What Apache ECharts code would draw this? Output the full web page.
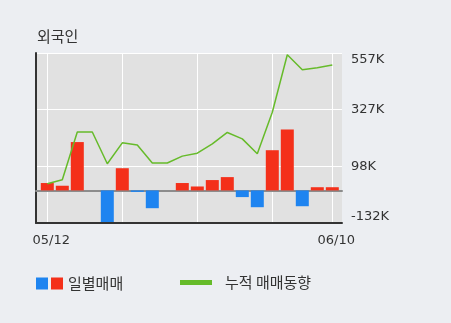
<!DOCTYPE html>
<html>
<head>
<meta charset="utf-8">
<script src="https://cdn.jsdelivr.net/npm/echarts@6/dist/echarts.min.js"></script>
<style>
html,body{margin:0;padding:0;background:#eceef2;}
#chart{width:451px;height:323px;}
</style>
</head>
<body>
<div id="chart"></div>
<script>
const categories = ['05/12','05/13','05/16','05/17','05/18','05/19','05/20','05/23','05/24','05/25','05/26','05/27','05/30','05/31','06/02','06/03','06/07','06/08','06/09','06/10'];
const dailyNet = [30, 19, 196, 0, -128, 90, -6, -72, 0, 30, 16, 42, 54, -27, -68, 163, 247, -64, 13, 13];
const cumulative = [27, 43, 237, 237, 108, 193, 184, 111, 111, 139, 151, 189, 235, 209, 149, 317, 550, 489, 497, 508];
const yTickLabels = ['-132K', '98K', '327K', '557K'];
const yMin = -132, yMax = 557;
const xLabelIdx = [0, 19];
const xGridIdx = [0, 5, 10, 15, 19];

const RED = '#f4301a', BLUE = '#1e84f0', GREEN = '#66bb2a';
const NUM_FONT = 'DejaVu Sans, Noto Sans CJK KR, sans-serif';
const KR_FONT = 'Noto Sans CJK KR, sans-serif';

const posData = dailyNet.map(v => v > 0 ? v : '-');
const negData = dailyNet.map(v => v < 0 ? v : '-');

const chart = echarts.init(document.getElementById('chart'), null, {renderer: 'canvas'});
chart.setOption({
  animation: false,
  backgroundColor: '#eceef2',
  title: {
    text: '외국인', left: 37, top: 29, padding: 0,
    textStyle: {fontFamily: KR_FONT, fontSize: 15, fontWeight: 'normal', color: '#333'}
  },
  legend: [
    {data: ['일별매매(매도)'], left: 36, top: 276, padding: 0, itemWidth: 12, itemHeight: 12, itemGap: 0,
     icon: 'rect', formatter: () => ' ', textStyle: {fontFamily: KR_FONT, fontSize: 15}},
    {data: ['일별매매'], left: 51, top: 276, padding: 0, itemWidth: 12, itemHeight: 12, icon: 'rect',
     textStyle: {fontFamily: KR_FONT, fontSize: 15, color: '#333'}},
    {data: ['누적 매매동향'], left: 180, top: 275, padding: 0, itemWidth: 32, itemHeight: 5, icon: 'rect',
     textStyle: {fontFamily: KR_FONT, fontSize: 15, color: '#333', padding: [0, 0, 0, 8]}}
  ],
  grid: [
    {left: 36, right: 109, top: 53, bottom: 100, show: true, backgroundColor: '#e1e1e1', borderWidth: 0},
    {left: 47.3, right: 118.7, top: 53, bottom: 100, show: false}
  ],
  xAxis: [
    {type: 'value', gridIndex: 0, min: 0, max: 1, position: 'bottom',
     axisLine: {show: true, onZero: false, lineStyle: {color: '#333', width: 2}},
     axisTick: {show: false}, axisLabel: {show: false}, splitLine: {show: false}},
    {type: 'category', gridIndex: 1, data: categories, boundaryGap: false, position: 'bottom',
     axisLine: {show: false, onZero: false}, axisTick: {show: false},
     axisLabel: {interval: (i) => xLabelIdx.includes(i), margin: 11, fontFamily: NUM_FONT, fontSize: 13,
       color: '#333', padding: [0, 0, 0, 8]},
     splitLine: {show: true, interval: (i) => xGridIdx.includes(i), lineStyle: {color: '#ffffff', width: 1}}},
    {type: 'value', gridIndex: 0, min: 0, max: 1, position: 'top',
     axisLine: {show: true, onZero: true, onZeroAxisIndex: 0, lineStyle: {color: '#8c8c8c', width: 2}},
     axisTick: {show: false}, axisLabel: {show: false}, splitLine: {show: false}}
  ],
  yAxis: [
    {type: 'value', gridIndex: 0, position: 'right', min: yMin, max: yMax, interval: (yMax - yMin) / 3,
     axisLine: {show: false}, axisTick: {show: false},
     axisLabel: {margin: 9, fontFamily: NUM_FONT, fontSize: 13, color: '#333',
       formatter: (v, i) => yTickLabels[i],
       verticalAlignMinLabel: 'bottom', verticalAlignMaxLabel: 'top'},
     splitLine: {show: true, lineStyle: {color: '#ffffff', width: 1}}},
    {type: 'value', gridIndex: 0, position: 'left', min: yMin, max: yMax,
     axisLine: {show: true, lineStyle: {color: '#333', width: 2}},
     axisTick: {show: false}, axisLabel: {show: false}, splitLine: {show: false}},
    {type: 'value', gridIndex: 1, min: yMin, max: yMax, show: false, splitLine: {show: false}}
  ],
  series: [
    {name: '일별매매(매도)', type: 'bar', xAxisIndex: 1, yAxisIndex: 2, data: negData,
     barWidth: 13, barGap: '-100%', clip: false, itemStyle: {color: BLUE}},
    {name: '일별매매', type: 'bar', xAxisIndex: 1, yAxisIndex: 2, data: posData,
     barWidth: 13, barGap: '-100%', clip: false, itemStyle: {color: RED}},
    {name: '누적 매매동향', type: 'line', xAxisIndex: 1, yAxisIndex: 2, data: cumulative,
     showSymbol: false, symbol: 'none', z: 5, clip: false,
     lineStyle: {color: GREEN, width: 1.5}, itemStyle: {color: GREEN}}
  ]
});
</script>
</body>
</html>
